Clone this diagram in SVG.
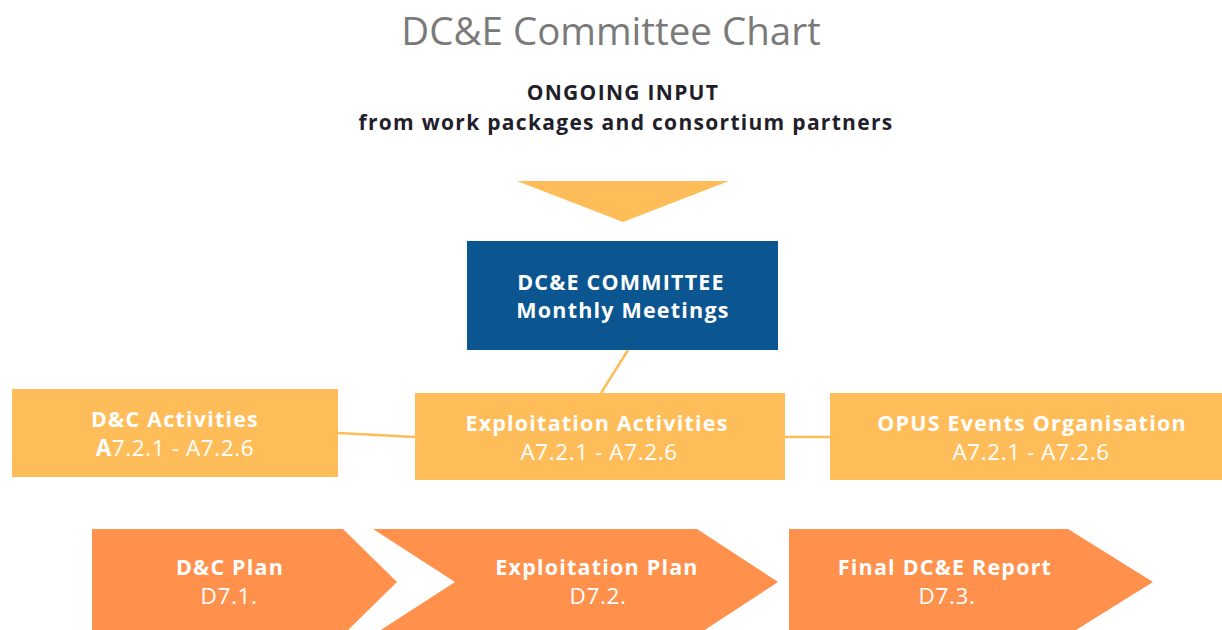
<svg xmlns="http://www.w3.org/2000/svg" width="1222" height="630" viewBox="0 0 1222 630">
  <style>
    .title { font-family: "Open Sans", "Liberation Sans", sans-serif; font-size: 38.5px; fill: #7a7a7a; font-weight: 400; }
    .head { font-family: "Open Sans", "Liberation Sans", sans-serif; font-size: 21px; font-weight: 700; fill: #1f2029; letter-spacing: 1.3px; }
    .lbl { font-family: "Open Sans", "Liberation Sans", sans-serif; font-size: 21.5px; font-weight: 700; fill: #ffffff; letter-spacing: 1.2px; text-anchor: middle; }
    .sub { font-family: "Open Sans", "Liberation Sans", sans-serif; font-size: 22.5px; font-weight: 400; fill: #ffffff; letter-spacing: 0.6px; text-anchor: middle; }
    .amber { fill: #FFBD59; }
    .orange { fill: #FF914D; }
    .conn { stroke: #FFBD59; stroke-width: 2.5; fill: none; }
  </style>

  <!-- heading -->
  <text class="title" x="611" y="45" text-anchor="middle">DC&amp;E Committee Chart</text>
  <text class="head" x="623" y="100" text-anchor="middle" letter-spacing="1.6">ONGOING INPUT</text>
  <text class="head" x="626" y="130" text-anchor="middle">from work packages and consortium partners</text>

  <!-- input arrow -->
  <polygon class="amber" points="517,181 729,181 623,222"/>

  <!-- connectors -->
  <g id="connectors">
    <line class="conn" x1="628" y1="350" x2="601" y2="393"/>
    <line class="conn" x1="338" y1="433" x2="415" y2="437"/>
    <line class="conn" x1="785" y1="437" x2="830" y2="437"/>
  </g>

  <g id="committee">
    <rect x="467" y="241" width="311" height="109" fill="#0B5590"/>
    <text class="lbl" x="621" y="290">DC&amp;E COMMITTEE</text>
    <text class="lbl" x="623" y="318">Monthly Meetings</text>
  </g>

  <g id="dc-activities">
    <rect class="amber" x="12" y="389" width="326" height="88"/>
    <text class="lbl" x="175" y="427">D&amp;C Activities</text>
    <text class="sub" x="175" y="456"><tspan font-weight="700">A</tspan>7.2.1 - A7.2.6</text>
  </g>

  <g id="exploitation-activities">
    <rect class="amber" x="415" y="393" width="370" height="87"/>
    <text class="lbl" x="597" y="431">Exploitation Activities</text>
    <text class="sub" x="599" y="460">A7.2.1 - A7.2.6</text>
  </g>

  <g id="opus-events">
    <rect class="amber" x="830" y="393" width="392" height="87"/>
    <text class="lbl" x="1032" y="431">OPUS Events Organisation</text>
    <text class="sub" x="1031" y="460">A7.2.1 - A7.2.6</text>
  </g>

  <g id="dc-plan">
    <polygon class="orange" points="92,529 343,529 397,582 343,635 92,635"/>
    <text class="lbl" x="230" y="575">D&amp;C Plan</text>
    <text class="sub" x="229" y="604">D7.1.</text>
  </g>

  <g id="exploitation-plan">
    <polygon class="orange" points="373,529 697,529 778,582 697,635 373,635 455,582"/>
    <text class="lbl" x="597" y="575">Exploitation Plan</text>
    <text class="sub" x="598" y="604">D7.2.</text>
  </g>

  <g id="final-report">
    <polygon class="orange" points="789,529 1068,529 1153,582 1068,635 789,635"/>
    <text class="lbl" x="945" y="575">Final DC&amp;E Report</text>
    <text class="sub" x="947" y="604">D7.3.</text>
  </g>
</svg>
